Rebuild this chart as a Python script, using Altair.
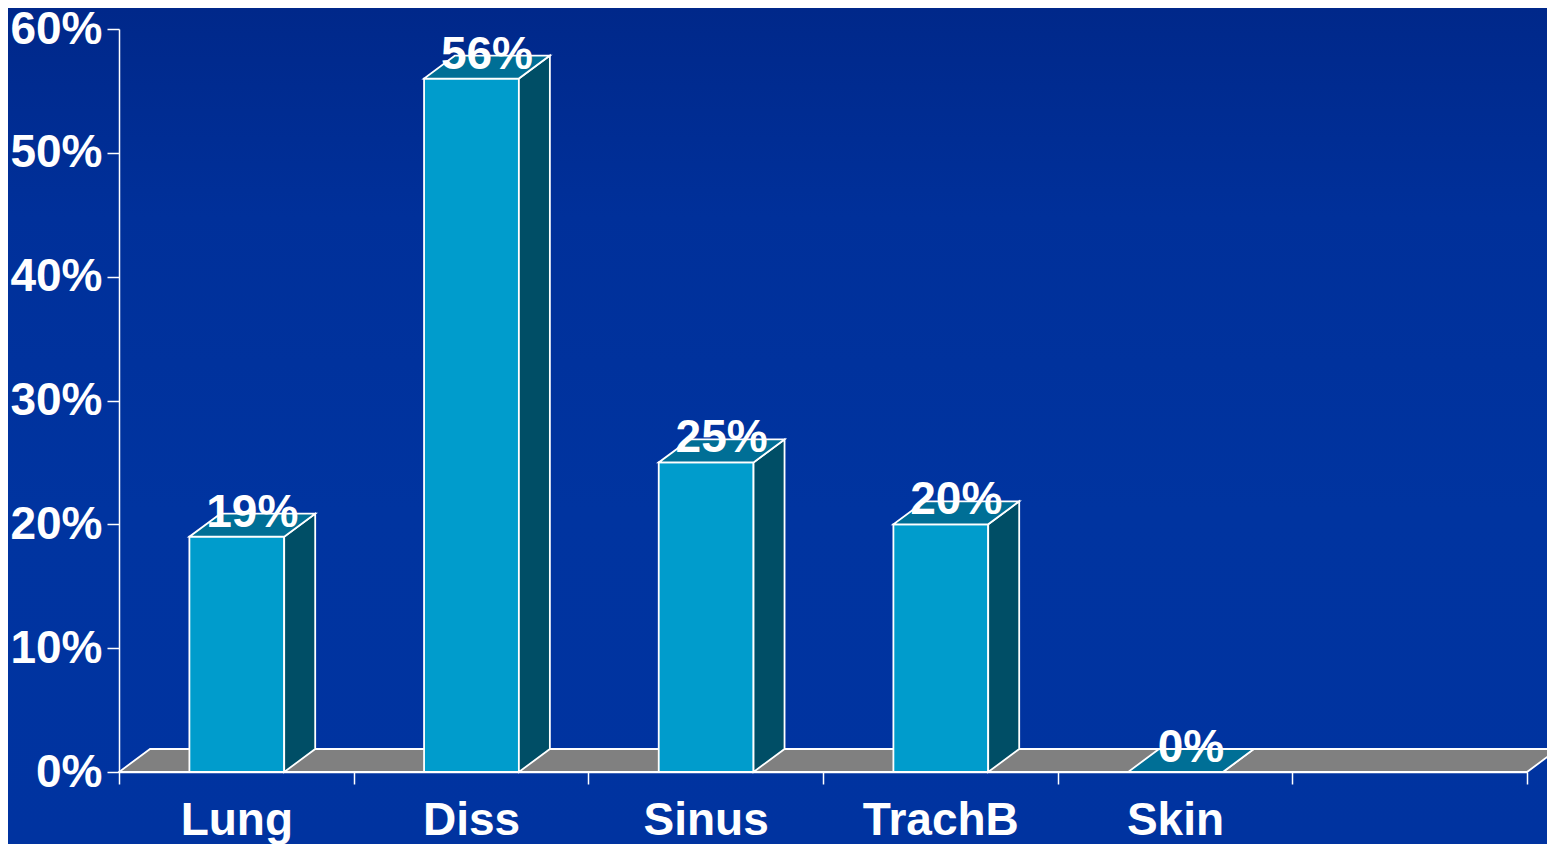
import altair as alt
import pandas as pd

# ---- data ----
categories = ["Lung", "Diss", "Sinus", "TrachB", "Skin"]
values = [0.19, 0.56, 0.25, 0.20, 0.00]
y_ticks = [0.0, 0.1, 0.2, 0.3, 0.4, 0.5, 0.6]
n_slots = 6  # five categories plus one empty slot on the right

# ---- layout / style constants ----
W, H = 1408, 743
PAD = {"left": 111, "top": 21, "right": 20, "bottom": 72}
X_MAX = n_slots
Y_MAX = 0.6
DX = 31 / W * X_MAX      # 3D depth, horizontal (data units)
DY = 23 / H * Y_MAX      # 3D depth, vertical (data units)
LO, HI = 0.30, 0.704     # bar front extent within a slot
FONT = "Liberation Sans"
FS = 46
FRONT = "#009ccc"
SIDE = "#004e66"
TOP = "#006f96"
FLOOR = "#808080"
SW = 1.8

# ---- derived tables ----
front = pd.DataFrame({
    "cat": categories,
    "x": [i + LO for i in range(len(categories))],
    "x2": [i + HI for i in range(len(categories))],
    "y": [0.0] * len(categories),
    "y2": values,
})

side_rows, top_rows = [], []
for i, (c, v) in enumerate(zip(categories, values)):
    side_rows.append({"cat": c, "x": i + HI, "ylo": 0.0, "yhi": v})
    side_rows.append({"cat": c, "x": i + HI + DX, "ylo": DY, "yhi": v + DY})
    top_rows.append({"cat": c, "y": v, "xlo": i + LO, "xhi": i + HI})
    top_rows.append({"cat": c, "y": v + DY, "xlo": i + LO + DX, "xhi": i + HI + DX})
side = pd.DataFrame(side_rows)
top = pd.DataFrame(top_rows)

floor = pd.DataFrame({
    "cat": ["floor", "floor"],
    "y": [0.0, DY],
    "xlo": [0.0, DX],
    "xhi": [float(X_MAX), X_MAX + DX],
})

labels = pd.DataFrame({
    "cat": categories,
    "x": [i + (LO + HI) / 2 + DX / 2 for i in range(len(categories))],
    "y": [v + DY for v in values],
    "txt": [f"{round(v * 100)}%" for v in values],
})

# ---- scales and axes ----
xscale = alt.Scale(domain=[0, X_MAX], nice=False, zero=False)
yscale = alt.Scale(domain=[0, Y_MAX], nice=False)

names = "[" + ",".join(f"'{c}'" for c in categories + [""]) + "]"
xaxis = alt.Axis(
    values=[k * 0.5 for k in range(2 * n_slots + 1)],
    labelExpr=f"datum.value % 1 === 0.5 ? {names}[floor(datum.value)] : ''",
    title=None, grid=False, zindex=1,
    domainColor="white", domainWidth=1.5,
    tickColor="white", tickWidth=1.5, tickSize=12,
    tickOpacity={"condition": {"test": "datum.value % 1 === 0", "value": 1}, "value": 0},
    labelColor="white", labelFont=FONT, labelFontSize=FS, labelFontWeight="bold",
    labelPadding=14, labelOverlap=False, labelFlush=False, labelBaseline="top",
)
yaxis = alt.Axis(
    values=y_ticks, format=".0%", title=None, grid=False, zindex=1,
    domainColor="white", domainWidth=1.5,
    tickColor="white", tickWidth=1.5, tickSize=12,
    labelColor="white", labelFont=FONT, labelFontSize=FS, labelFontWeight="bold",
    labelPadding=5,
)


def X(f):
    return alt.X(f, type="quantitative", scale=xscale, axis=xaxis, stack=None)


def Y(f):
    return alt.Y(f, type="quantitative", scale=yscale, axis=yaxis, stack=None)


# ---- background ----
grad = alt.LinearGradient(
    gradient="linear", x1=0, y1=0, x2=0, y2=1,
    stops=[
        alt.GradientStop(color="#00288a", offset=0),
        alt.GradientStop(color="#00309a", offset=0.25),
        alt.GradientStop(color="#0034a0", offset=0.6),
        alt.GradientStop(color="#0033a0", offset=1),
    ],
)
bg = alt.Chart(pd.DataFrame({"a": [0]})).mark_rect(fill=grad).encode(
    x=alt.value(-PAD["left"]), x2=alt.value(W + PAD["right"]),
    y=alt.value(-PAD["top"]), y2=alt.value(H + PAD["bottom"]),
)

floor_layer = alt.Chart(floor).mark_area(
    orient="horizontal", fill=FLOOR, stroke="white", strokeWidth=SW, strokeJoin="miter"
).encode(y=Y("y"), x=X("xlo"), x2="xhi", detail="cat:N")

front_layer = alt.Chart(front).mark_rect(
    fill=FRONT, stroke="white", strokeWidth=SW
).encode(x=X("x"), x2="x2", y=Y("y"), y2="y2")

side_layer = alt.Chart(side).mark_area(
    orient="vertical", fill=SIDE, stroke="white", strokeWidth=SW, strokeJoin="miter"
).encode(x=X("x"), y=Y("yhi"), y2="ylo", detail="cat:N")

top_layer = alt.Chart(top).mark_area(
    orient="horizontal", fill=TOP, stroke="white", strokeWidth=SW, strokeJoin="miter"
).encode(y=Y("y"), x=X("xlo"), x2="xhi", detail="cat:N")

text_layer = alt.Chart(labels).mark_text(
    font=FONT, fontSize=FS, fontWeight="bold", color="white",
    align="center", baseline="middle", dy=-1,
).encode(x=X("x"), y=Y("y"), text="txt:N")

chart = alt.layer(
    bg, floor_layer, front_layer, side_layer, top_layer, text_layer
).properties(
    width=W, height=H, padding=PAD,
    autosize=alt.AutoSizeParams(type="none"),
    background="#0033a0",
).configure_view(stroke=None)

chart.save("out.html", embed_options={"renderer": "svg", "actions": False})
